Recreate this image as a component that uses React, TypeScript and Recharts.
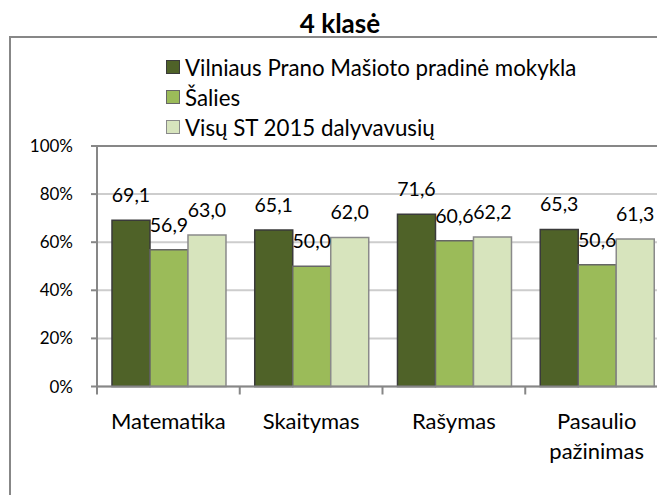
import { Bar, BarChart, CartesianGrid, LabelList, Legend, ReferenceLine, XAxis, YAxis } from 'recharts'

const categories = ['Matematika', 'Skaitymas', 'Rašymas', 'Pasaulio pažinimas']
const schoolScores = [69.1, 65.1, 71.6, 65.3]
const countryScores = [56.9, 50.0, 60.6, 50.6]
const allParticipantsScores = [63.0, 62.0, 62.2, 61.3]
const seriesNames = ['Vilniaus Prano Mašioto pradinė mokykla', 'Šalies', 'Visų ST 2015 dalyvavusių']
const yTicks = [0, 20, 40, 60, 80, 100]

const FONT = 'Lato, "Open Sans", sans-serif'
const AXIS = '#878787'
const GRID = '#cdcdcd'

const SERIES = [
  { key: 'school', fill: '#4f6228', stroke: '#3a3a3a' },
  { key: 'country', fill: '#9bbb59', stroke: '#666666' },
  { key: 'all', fill: '#d7e4bd', stroke: '#8a8a8a' }
]

const rows = categories.map((name, i) => ({
  name,
  school: schoolScores[i],
  country: countryScores[i],
  all: allParticipantsScores[i]
}))

const TICK_MARGIN = 27

// category label, one word per line, plus the Excel-style tick between categories
function CategoryTick(props: any) {
  const { x, y, payload, index, visibleTicksCount } = props
  const words = String(payload.value).split(' ')
  const half = payload.offset ?? 0
  const axisY = y - TICK_MARGIN
  return (
    <g>
      <line x1={x - half} x2={x - half} y1={axisY} y2={axisY + 8} stroke={AXIS} strokeWidth={2} />
      {index === visibleTicksCount - 1 && (
        <line x1={x + half} x2={x + half} y1={axisY} y2={axisY + 8} stroke={AXIS} strokeWidth={2} />
      )}
      <text x={x} y={y} textAnchor="middle" fill="#000" fontSize={22} fontFamily={FONT}>
        {words.map((w, i) => (
          <tspan key={i} x={x} dy={i === 0 ? 15 : 30}>
            {w}
          </tspan>
        ))}
      </text>
    </g>
  )
}

function LegendRows({ payload }: any) {
  const items = [...(payload ?? [])].sort(
    (a: any, b: any) => seriesNames.indexOf(a.value) - seriesNames.indexOf(b.value)
  )
  return (
    <div style={{ fontFamily: FONT, fontSize: 22.3, color: '#000' }}>
      {items.map((entry: any) => {
        const s = SERIES.find((x) => x.key === entry.dataKey) ?? SERIES[0]
        return (
          <div key={entry.value} style={{ display: 'flex', alignItems: 'center', height: 30, whiteSpace: 'nowrap' }}>
            <span
              style={{
                display: 'inline-block',
                width: 14,
                height: 14,
                boxSizing: 'border-box',
                background: s.fill,
                border: `1.5px solid ${s.stroke}`,
                marginRight: 5
              }}
            />
            <span>{entry.value}</span>
          </div>
        )
      })}
    </div>
  )
}

const fmt = (v: any) => Number(v).toFixed(1).replace('.', ',')

export default function App() {
  return (
    <div style={{ position: 'fixed', left: 0, top: 0, width: 657, height: 495, overflow: 'hidden', background: '#fff' }}>
      <div
        style={{
          position: 'absolute',
          left: 0,
          top: 9,
          width: 680,
          textAlign: 'center',
          fontFamily: FONT,
          fontWeight: 700,
          fontSize: 26,
          lineHeight: '28px'
        }}
      >
        4 klasė
      </div>
      <div
        style={{
          position: 'absolute',
          left: 9,
          top: 36,
          width: 662,
          height: 520,
          boxSizing: 'border-box',
          border: `2px solid ${AXIS}`
        }}
      />
      <div style={{ position: 'absolute', left: 0, top: 0 }}>
        <BarChart
          width={672}
          height={495}
          data={rows}
          margin={{ top: 146, right: 4, bottom: 48.5, left: 0 }}
          barCategoryGap="10.5%"
          barGap={0}
        >
          <CartesianGrid horizontal vertical={false} stroke={GRID} strokeWidth={2} />
          <ReferenceLine y={100} stroke={AXIS} strokeWidth={2} />
          <XAxis
            dataKey="name"
            height={60}
            interval={0}
            axisLine={{ stroke: AXIS, strokeWidth: 2 }}
            tickLine={false}
            tickSize={0}
            tickMargin={TICK_MARGIN}
            tick={<CategoryTick />}
          />
          <YAxis
            width={97}
            domain={[0, 100]}
            ticks={yTicks}
            interval={0}
            tickFormatter={(v) => `${v}%`}
            axisLine={{ stroke: AXIS, strokeWidth: 2 }}
            tickLine={{ stroke: AXIS, strokeWidth: 2 }}
            tickSize={6}
            tickMargin={18}
            tick={{ fill: '#000', fontSize: 17, fontFamily: FONT }}
          />
          <Legend
            layout="vertical"
            align="center"
            verticalAlign="middle"
            itemSorter={(item: any) => seriesNames.indexOf(item.value)}
            wrapperStyle={{ top: 52, left: 166, width: 'auto' }}
            content={<LegendRows />}
          />
          {SERIES.map((s, i) => (
            <Bar
              key={s.key}
              dataKey={s.key}
              name={seriesNames[i]}
              fill={s.fill}
              stroke={s.stroke}
              strokeWidth={1.5}
              isAnimationActive={false}
            >
              <LabelList
                dataKey={s.key}
                position="top"
                offset={18}
                formatter={fmt}
                fill="#000"
                fontSize={19.5}
                fontFamily={FONT}
              />
            </Bar>
          ))}
        </BarChart>
      </div>
    </div>
  )
}
